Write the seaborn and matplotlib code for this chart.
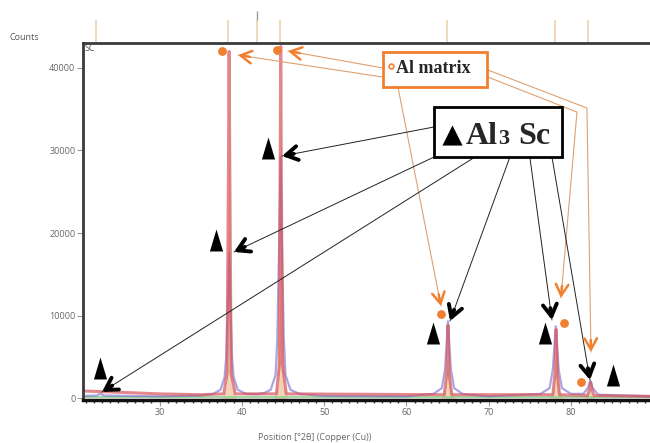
import numpy as np
import matplotlib
matplotlib.use('Agg')
import matplotlib.pyplot as plt
import matplotlib.patches as patches
import matplotlib.transforms as mtransforms
import seaborn as sns

sns.set_style('white')
plt.rcParams['font.family'] = ['Open Sans', 'DejaVu Sans']

# measured pattern (blue/purple profile)
blue_x = [20.7, 22.3, 22.8, 23.3, 30, 35, 36.5, 37.4, 37.9, 38.1, 38.25, 38.45, 38.65, 38.8, 39.0,
          39.5, 40.5, 41.8, 42.7, 43.5, 44.1, 44.3, 44.5, 44.7, 44.9, 45.1, 45.3, 45.9, 47, 50,
          60, 63.3, 64.3, 64.7, 64.85, 65.05, 65.25, 65.4, 65.8, 66.8, 70, 76.3, 77.4, 77.8,
          77.95, 78.15, 78.35, 78.5, 78.9, 80, 81.5, 82.05, 82.35, 82.65, 83.3, 90]
blue_y = [250, 300, 500, 300, 200, 300, 500, 1000, 2500, 5000, 10000, 17600, 10000, 5000, 2500,
          1000, 500, 450, 600, 1000, 2800, 7000, 17000, 29200, 17000, 7000, 2800, 1000, 500, 250,
          200, 500, 1200, 3500, 6000, 9300, 6000, 3500, 1200, 500, 200, 500, 1200, 3500,
          5800, 8700, 5800, 3500, 1200, 500, 500, 1200, 2100, 1200, 400, 200]

# calculated pattern (red)
red_x = [20.7, 25, 30, 35, 37.8, 38.2, 38.35, 38.45, 38.55, 38.7, 39.2, 44.2, 44.55, 44.65, 44.72,
         44.8, 44.95, 45.4, 64.6, 64.9, 65.05, 65.2, 65.5, 77.8, 78.05, 78.2, 78.35, 78.6, 82.0,
         82.25, 82.4, 82.55, 82.8, 90]
red_y = [850, 700, 500, 400, 500, 3000, 25000, 42000, 25000, 3000, 500, 500, 4000, 26000, 42600,
         26000, 4000, 500, 400, 3000, 8800, 3000, 400, 400, 3000, 8300, 3000, 400, 300,
         1000, 1900, 1000, 300, 200]

# phase peaks (tan fill)
tan_x = [20.7, 37.6, 38.1, 38.3, 38.45, 38.6, 38.8, 39.3, 43.9, 44.35, 44.55, 44.72, 44.9, 45.1,
         45.6, 64.2, 64.7, 64.95, 65.05, 65.15, 65.4, 65.9, 77.4, 77.9, 78.1, 78.2, 78.3, 78.55,
         79.0, 81.7, 82.1, 82.3, 82.5, 82.9, 90]
tan_y = [0, 0, 1500, 9000, 40000, 9000, 1500, 0, 0, 1500, 9000, 41000, 9000, 1500,
         0, 0, 1200, 5000, 8500, 5000, 1200, 0, 0, 1200, 5000, 8000, 5000, 1200,
         0, 0, 600, 1600, 600, 0, 0]

ref_lines = [22.27, 38.31, 41.84, 44.63, 64.93, 78.06, 82.07]

# marker positions
al_dots_x = [37.58, 44.27, 64.2, 79.1, 81.22]
al_dots_y = [42060, 42180, 10180, 9090, 1940]
tri_x = [43.18, 36.86, 22.77, 63.23, 76.84, 85.10]
tri_y = [30300, 19150, 3640, 7880, 7880, 2790]

fig = plt.figure(figsize=(6.5, 4.43), dpi=100)
ax = fig.add_axes([83/650, 1-400/443, 570/650, 357/443])
ax.set_xlim(20.69, 89.97)
ax.set_ylim(-242, 43030)

ax.fill_between(tan_x, tan_y, 0, color='#e8b888', alpha=0.6, lw=0)
sns.lineplot(x=[20.7, 90], y=[120, 120], ax=ax, color='#8fd08f', lw=1.2)
sns.lineplot(x=blue_x, y=blue_y, ax=ax, color='#6a5acd', lw=1.6, alpha=0.55)
sns.lineplot(x=red_x, y=red_y, ax=ax, color='#d6545a', lw=2.2, alpha=0.7)

# reference sticks above the frame
trans = mtransforms.blended_transform_factory(ax.transData, ax.transAxes)
ax.vlines(ref_lines, 1.0, 1.065, transform=trans, color='#efd2b0', lw=1.2, clip_on=False)
ax.vlines([41.84], 1.065, 1.09, transform=trans, color='#999999', lw=1.0, clip_on=False)

# spines / ticks
for s in ['left', 'top']:
    ax.spines[s].set_color('#3a3a3a')
    ax.spines[s].set_linewidth(2)
ax.spines['bottom'].set_color('#111111')
ax.spines['bottom'].set_linewidth(2.5)
ax.spines['right'].set_visible(False)
ax.set_xticks([30, 40, 50, 60, 70, 80])
ax.set_xticks(np.arange(21, 90, 1), minor=True)
ax.set_yticks([0, 10000, 20000, 30000, 40000])
ax.tick_params(axis='both', which='major', labelsize=6.5, labelcolor='#666666', color='#999999',
               length=4, width=0.8, direction='out', bottom=True, left=True, pad=1.5)
ax.tick_params(axis='x', which='minor', length=2.5, width=1, color='#333333', direction='out', bottom=True)
ax.text(20.9, 42400, 'SC', fontsize=6.5, color='#555555', va='center')

fig.text(10/650, 1-37/443, 'Counts', fontsize=6.5, color='#555555', va='center')
fig.text(315/650, 1-437/443, 'Position [°2θ] (Copper (Cu))', fontsize=6.5, color='#666666',
         ha='center', va='center')

orange = '#f08030'
tan_line = '#e0a070'


def head(tip, start, color, lw, hl, hw, back=12):
    p_tip = ax.transData.transform(tip)
    p_s = ax.transData.transform(start)
    d = (p_s - p_tip) / np.hypot(*(p_s - p_tip))
    b = ax.transData.inverted().transform(p_tip + d * back)
    ax.annotate('', xy=tip, xytext=b, annotation_clip=False,
                arrowprops=dict(arrowstyle=f'->,head_length={hl},head_width={hw}', color=color,
                                lw=lw, shrinkA=0, shrinkB=0), zorder=6)


# Al matrix pointers
orange_paths = [
    [(57.15, 38900), (39.53, 41570)],
    [(57.15, 40000), (45.6, 42060)],
    [(58.97, 37690), (64.2, 11150)],
    [(69.91, 38900), (80.73, 34660), (78.78, 12120)],
    [(69.91, 39750), (81.94, 35150), (82.43, 5575)],
]
for p in orange_paths:
    xs, ys = zip(*p)
    ax.plot(xs, ys, color=tan_line, lw=0.8, zorder=4)
    head(p[-1], p[-2], orange, 1.8, 0.8, 0.45)

# Al3Sc pointers
black_paths = [
    [(63.35, 32850), (44.88, 29330)],
    [(63.35, 29210), (39.04, 17700)],
    [(68.33, 29210), (23.0, 730)],
    [(72.58, 29210), (65.3, 9330)],
    [(75.0, 29210), (77.69, 9450)],
    [(77.69, 29210), (82.31, 2180)],
]
for p in black_paths:
    xs, ys = zip(*p)
    ax.plot(xs, ys, color='#222222', lw=0.7, zorder=4)
    head(p[-1], p[-2], 'black', 2.8, 0.85, 0.5)

tri = [(-0.3, -0.5), (0.3, -0.5), (0, 0.5), (-0.3, -0.5)]
ax.scatter(tri_x, tri_y, marker=tri, s=250, color='black', zorder=7, lw=0)
ax.scatter(al_dots_x, al_dots_y, marker='o', s=40, color=orange, zorder=7, lw=0)

# label boxes
ax.add_patch(patches.Rectangle((57.15, 37690), 69.79-57.15, 41930-37690, fc='white',
                               ec=orange, lw=2, zorder=8))
ax.scatter([58.13], [40240], marker='o', s=12, facecolor='white', edgecolor=orange, lw=1.2, zorder=9)
ax.text(58.75, 39950, 'Al matrix', family='Liberation Serif', fontweight='bold', fontsize=13,
        va='center', ha='left', zorder=9)

ax.add_patch(patches.Rectangle((63.35, 29210), 78.91-63.35, 35270-29210, fc='white',
                               ec='black', lw=2, zorder=8))
ax.scatter([65.54], [31900], marker='^', s=210, color='black', lw=0, zorder=9)
serif = dict(family='Liberation Serif', fontweight='bold', va='baseline', ha='left', zorder=9)
ax.text(67.24, 30785, 'Al', fontsize=23, **serif)
ax.text(71.13, 30785, '3', fontsize=16, **serif)
ax.text(73.6, 30785, 'Sc', fontsize=23, **serif)

fig.savefig('out.png', dpi=100)
